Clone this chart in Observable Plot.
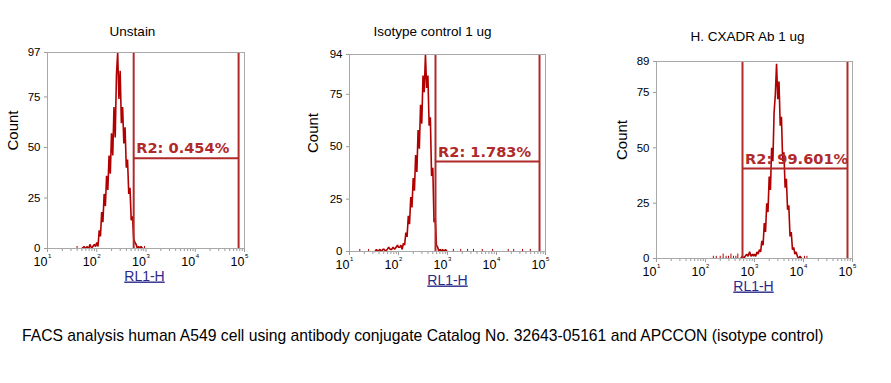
<!DOCTYPE html>
<html>
<head>
<meta charset="utf-8">
<script src="https://cdn.jsdelivr.net/npm/d3@7"></script>
<script src="https://cdn.jsdelivr.net/npm/@observablehq/plot@0.6"></script>
<style>
  html, body { margin: 0; padding: 0; background: #fff; }
  #wrap { position: relative; width: 891px; height: 383px; overflow: hidden; font-family: "Liberation Sans", Arial, sans-serif; }
  #wrap svg { position: absolute; left: 0; top: 0; }
  #caption { position: absolute; left: 22px; top: 327px; font-size: 15.7px; color: #000; white-space: nowrap; }
</style>
</head>
<body>
<div id="wrap"><div id="caption">FACS analysis human A549 cell using antibody conjugate Catalog No. 32643-05161 and APCCON (isotype control)</div></div>
<script>
// ---------- data ----------
const panelTitles = ["Unstain", "Isotype control 1 ug", "H. CXADR Ab 1 ug"];
const gateLabels = ["R2: 0.454%", "R2: 1.783%", "R2: 99.601%"];
const gateLeft = [562, 569, 569];
const gateRight = [75900, 75500, 79000];
const gateCount = [44.7, 42.9, 40.7];
const yMax = [97, 94, 89];
const yTickValues = [0, 25, 50, 75];
const decades = [10, 100, 1000, 10000, 100000];
const decadeExps = ["1", "2", "3", "4", "5"];
const axisTitleX = "RL1-H";
const axisTitleY = "Count";

// histogram traces: log10(RL1-H) and counts
const unstainExp = [1.70,1.74,1.78,1.80,1.84,1.86,1.90,1.92,1.95,1.975,
  2.000,2.025,2.050,2.075,2.100,2.125,2.150,2.175,2.200,2.225,2.250,2.275,2.300,2.325,2.350,2.375,
  2.400,2.425,2.450,2.475,2.500,2.525,2.550,2.575,2.600,2.625,2.650,2.675,2.700,2.725,2.750,2.775,
  2.800,2.825,2.850,2.875,2.900,2.930];
const unstainCount = [0,1,0,1,0,2,0,1,2,1,
  3,1,9,6,18,13,27,21,36,29,46,37,57,46,70,55,
  86,97,74,88,62,70,52,60,40,44,27,30,14,16,5,3,
  2,0,1,0,1,0];
const unstainEventExp = [1.60, 2.97];
const unstainEventCount = [1, 1];

const isotypeExp = [1.52,1.55,1.58,1.62,1.65,1.68,1.71,1.74,1.77,1.80,1.83,1.86,1.89,1.92,1.95,1.98,
  2.000,2.025,2.050,2.075,2.100,2.125,2.150,2.175,2.200,2.225,2.250,2.275,2.300,2.325,2.350,2.375,
  2.400,2.425,2.450,2.475,2.500,2.525,2.550,2.575,2.600,2.625,2.650,2.675,2.700,2.725,2.750,2.775,
  2.800,2.825,2.850,2.875,2.900,2.925,2.960,2.990];
const isotypeCount = [0,1,0,1,0,1,1,0,1,2,1,1,2,1,2,3,
  2,2,3,1,4,3,9,7,17,13,26,21,35,29,46,38,
  58,49,70,61,84,76,94,78,84,60,64,36,40,14,16,3,
  2,0,1,0,1,0,1,0];
const isotypeEventExp = [1.21,1.39,3.12,3.27,3.41,3.53,3.71,3.92,4.24,4.35,4.53,4.69,5.00];
const isotypeEventCount = [1,1,1,1,1,1,1,1,1,1,1,1,4];

const cxadrExp = [2.72,2.75,2.78,2.81,2.84,2.87,2.90,2.93,2.96,2.98,
  3.000,3.025,3.050,3.075,3.100,3.125,3.150,3.175,3.200,3.225,3.250,3.275,3.300,3.325,3.350,3.375,
  3.400,3.425,3.450,3.475,3.500,3.525,3.550,3.575,3.600,3.625,3.650,3.675,3.700,3.725,3.750,3.775,
  3.800,3.825,3.850,3.875,3.900,3.930,3.960];
const cxadrCount = [0,1,0,1,2,1,3,1,2,1,
  2,1,3,2,4,3,8,6,16,12,25,21,37,31,50,44,
  66,74,88,72,80,60,64,44,48,32,36,22,24,10,12,4,
  5,2,3,1,0,1,0];
const cxadrEventExp = [2.16,2.22,2.30,2.36,2.42,2.47,2.52,2.57,2.62,2.66,4.02,4.07];
const cxadrEventCount = [1,1,1,2,1,1,2,1,1,2,1,1];

const histExp = [unstainExp, isotypeExp, cxadrExp];
const histCount = [unstainCount, isotypeCount, cxadrCount];
const eventExp = [unstainEventExp, isotypeEventExp, cxadrEventExp];
const eventCount = [unstainEventCount, isotypeEventCount, cxadrEventCount];

// ---------- layout & style ----------
const W = 891, H = 383;
const layout = [
  {L: 47,  R: 244, T: 52, B: 248, titleDx: -13.5, titleDy: -26, countDx: -34, xlabDx: -1.5, xlabDy: 32},
  {L: 349, R: 545, T: 54, B: 251, titleDx: -15,   titleDy: -28, countDx: -36, xlabDx: 0,    xlabDy: 33},
  {L: 656, R: 852, T: 61, B: 258, titleDx: -7,    titleDy: -30, countDx: -34, xlabDx: -1,   xlabDy: 32}
];
const histColor = "#b00000";
const gateColor = "#b02a2a";
const axisGrey = "#9a9a9a";
const minorTicks = decades.slice(0, -1).flatMap(d => [2,3,4,5,6,7,8,9].map(k => d * k));

function panel(i) {
  const lay = layout[i];
  const hist = histExp[i].map((e, j) => ({x: 10 ** e, y: histCount[i][j]}));
  const ev = eventExp[i].map((e, j) => ({x: 10 ** e, y: eventCount[i][j]}));
  const gate = [{y: gateCount[i], x1: gateLeft[i], x2: gateRight[i], label: gateLabels[i]}];
  return Plot.plot({
    width: W, height: H,
    marginLeft: lay.L, marginRight: W - lay.R, marginTop: lay.T, marginBottom: H - lay.B,
    style: {background: "transparent", fontFamily: "'Liberation Sans', Arial, sans-serif", overflow: "visible", color: "#000"},
    x: {type: "log", domain: [10, 1e5]},
    y: {domain: [0, yMax[i]]},
    marks: [
      Plot.axisX(minorTicks, {tickSize: 3, tickFormat: () => "", label: null, stroke: axisGrey}),
      Plot.axisX(decades, {tickSize: 4, tickFormat: () => "", label: null, stroke: axisGrey}),
      Plot.text(decades, {x: d => d, frameAnchor: "bottom", text: () => "10", textAnchor: "end", lineAnchor: "top", dy: 8.5, fontSize: 12.5, fill: "#000"}),
      Plot.text(decades, {x: d => d, frameAnchor: "bottom", text: (d, k) => decadeExps[k], textAnchor: "start", dy: 9, dx: 0.5, fontSize: 6, fill: "#000"}),
      Plot.axisY([...yTickValues, yMax[i]], {tickSize: 3, tickPadding: 4, label: null, fontSize: 11.5, stroke: axisGrey, fill: "#000"}),
      Plot.ruleX(ev, {x: "x", y1: 0, y2: "y", stroke: histColor, strokeWidth: 1}),
      Plot.line(hist, {x: "x", y: "y", stroke: histColor, strokeWidth: 1.6, strokeLinejoin: "miter"}),
      Plot.ruleX([gateLeft[i], gateRight[i]], {stroke: gateColor, strokeWidth: 2}),
      Plot.ruleY(gate, {y: "y", x1: "x1", x2: "x2", stroke: gateColor, strokeWidth: 2}),
      Plot.text(gate, {x: "x1", y: "y", text: "label", textAnchor: "start", dx: 2.5, dy: -9.5, fontSize: 14.6, fontWeight: "bold", fontFamily: "'DejaVu Sans', Verdana, sans-serif", fill: gateColor, clip: true}),
      Plot.frame({stroke: "#a8a8a8"}),
      Plot.text([panelTitles[i]], {frameAnchor: "top", dx: lay.titleDx, dy: lay.titleDy, fontSize: 13.5, fill: "#000"}),
      Plot.text([axisTitleY], {frameAnchor: "left", dx: lay.countDx, rotate: -90, fontSize: 15, fill: "#000"}),
      Plot.text([axisTitleX], {frameAnchor: "bottom", dx: lay.xlabDx, dy: lay.xlabDy, fontSize: 14, fill: "#2a2a8c"})
    ]
  });
}

const wrap = document.getElementById("wrap");
for (let i = 0; i < 3; i++) {
  const svg = panel(i);
  svg.querySelectorAll("text").forEach(t => {
    if (t.textContent === axisTitleX) t.setAttribute("text-decoration", "underline");
  });
  wrap.appendChild(svg);
}
</script>
</body>
</html>
